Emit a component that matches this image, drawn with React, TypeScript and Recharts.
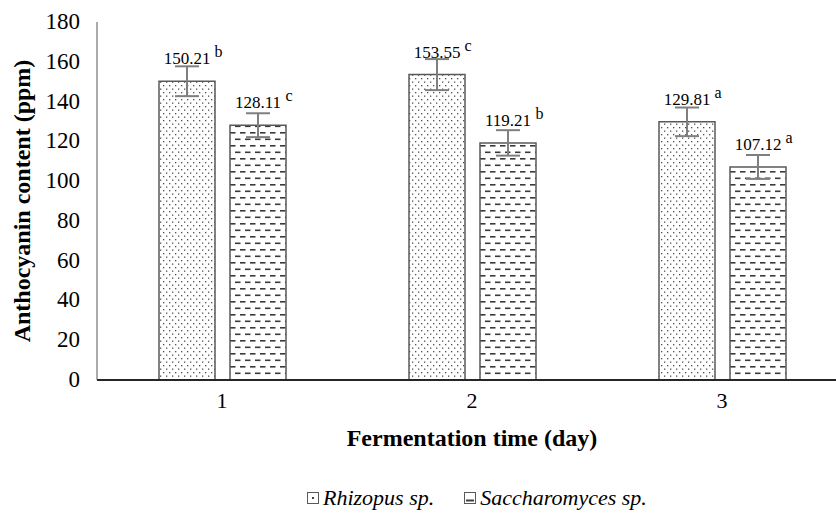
import React from "react";
import { BarChart, Bar, XAxis, YAxis, ErrorBar, LabelList } from "recharts";

const days = ["1", "2", "3"];
const rhizopus = [150.21, 153.55, 129.81];
const saccharomyces = [128.11, 119.21, 107.12];
const rhizopusErr = [7.5, 7.8, 7.2];
const saccharomycesErr = [6, 6.4, 6];
const rhizopusLetters = ["b", "c", "a"];
const saccharomycesLetters = ["c", "b", "a"];
const yTicks = [0, 20, 40, 60, 80, 100, 120, 140, 160, 180];

const FONT = '"Liberation Serif", "Times New Roman", serif';

const chartData = days.map((day, i) => ({
  day,
  rhizopus: rhizopus[i],
  rhizopusErr: rhizopusErr[i],
  saccharomyces: saccharomyces[i],
  saccharomycesErr: saccharomycesErr[i],
}));

// value label + superscript significance letter
const makeLabel = (letters: string[]) => (props: any) => {
  const { x, y, width, value, index } = props;
  const fs = 17;
  const txt = Number(value).toFixed(2);
  const cx = x + width / 2;
  const half = ((txt.length - 1) * 0.5 + 0.25) * fs / 2;
  return (
    <g>
      <text x={cx} y={y - 17} textAnchor="middle" fontSize={fs} fontFamily={FONT} fill="#000">
        {txt}
      </text>
      <text x={cx + half + 4} y={y - 24} textAnchor="start" fontSize={16} fontFamily={FONT} fill="#000">
        {letters[index]}
      </text>
    </g>
  );
};

const XTick = (props: any) => {
  const { x, y, payload } = props;
  return (
    <text x={x} y={y + 28} textAnchor="middle" fontSize={22} fontFamily={FONT} fill="#000">
      {payload.value}
    </text>
  );
};

const YTick = (props: any) => {
  const { x, y, payload } = props;
  return (
    <text x={x - 17} y={y + 7} textAnchor="end" fontSize={23} fontFamily={FONT} fill="#000">
      {payload.value}
    </text>
  );
};

const DotIcon = () => (
  <svg width="12" height="12" style={{ marginRight: 4 }}>
    <rect x="0.5" y="0.5" width="11" height="11" fill="#fff" stroke="#595959" />
    <rect x="5" y="5" width="2" height="2" fill="#404040" />
  </svg>
);

const DashIcon = () => (
  <svg width="12" height="12" style={{ marginRight: 4 }}>
    <rect x="0.5" y="0.5" width="11" height="11" fill="#fff" stroke="#595959" />
    <rect x="2" y="7.5" width="8" height="2" fill="#404040" />
  </svg>
);

const App = () => {
  return (
    <div style={{ position: "absolute", left: 0, top: 0, width: 836, height: 515, overflow: "hidden", background: "#fff" }}>
      <BarChart
        width={860}
        height={515}
        data={chartData}
        margin={{ top: 22, right: 13, left: 0, bottom: 0 }}
        barSize={56}
        barGap={15}
      >
        <defs>
          <pattern id="dotsPat" width="6" height="7" patternUnits="userSpaceOnUse">
            <rect width="6" height="7" fill="#fff" />
            <rect x="1" y="1" width="1.3" height="1.3" fill="#505050" />
            <rect x="4" y="4.5" width="1.3" height="1.3" fill="#505050" />
          </pattern>
          <pattern id="dashPat" width="10" height="13" patternUnits="userSpaceOnUse">
            <rect width="10" height="13" fill="#fff" />
            <rect x="0" y="2" width="5.5" height="1.6" fill="#3a3a3a" />
            <rect x="5" y="8.5" width="5.5" height="1.6" fill="#3a3a3a" />
            <rect x="-5" y="8.5" width="5.5" height="1.6" fill="#3a3a3a" />
          </pattern>
        </defs>
        <XAxis
          dataKey="day"
          height={135}
          tickLine={false}
          tickSize={0}
          tickMargin={0}
          axisLine={{ stroke: "#262626", strokeWidth: 2 }}
          tick={<XTick />}
          label={(p: any) => {
            const vb = p.viewBox;
            return (
              <text x={vb.x + vb.width / 2} y={446} textAnchor="middle" fontSize={24} fontWeight="bold" fontFamily={FONT} fill="#000">
                Fermentation time (day)
              </text>
            );
          }}
        />
        <YAxis
          width={97}
          domain={[0, 180]}
          ticks={yTicks}
          interval={0}
          tickLine={false}
          tickSize={0}
          tickMargin={0}
          axisLine={{ stroke: "#595959", strokeWidth: 1 }}
          tick={<YTick />}
          label={(p: any) => {
            const vb = p.viewBox;
            const cy = vb.y + vb.height / 2;
            return (
              <text x={30} y={cy} transform={`rotate(-90 30 ${cy})`} textAnchor="middle" fontSize={24} fontWeight="bold" fontFamily={FONT} fill="#000">
                Anthocyanin content (ppm)
              </text>
            );
          }}
        />
        <Bar dataKey="rhizopus" fill="url(#dotsPat)" stroke="#595959" strokeWidth={1.5} isAnimationActive={false}>
          <ErrorBar dataKey="rhizopusErr" width={12} strokeWidth={2} stroke="#7f7f7f" direction="y" />
          <LabelList dataKey="rhizopus" content={makeLabel(rhizopusLetters)} />
        </Bar>
        <Bar dataKey="saccharomyces" fill="url(#dashPat)" stroke="#595959" strokeWidth={1.5} isAnimationActive={false}>
          <ErrorBar dataKey="saccharomycesErr" width={12} strokeWidth={2} stroke="#7f7f7f" direction="y" />
          <LabelList dataKey="saccharomyces" content={makeLabel(saccharomycesLetters)} />
        </Bar>
      </BarChart>
      <div
        style={{
          position: "absolute",
          left: 307,
          top: 486,
          display: "flex",
          alignItems: "center",
          fontFamily: FONT,
          fontStyle: "italic",
          fontSize: 22,
          lineHeight: "24px",
          color: "#000",
          whiteSpace: "nowrap",
        }}
      >
        <span style={{ display: "flex", alignItems: "center", marginRight: 30 }}>
          <DotIcon />
          Rhizopus sp.
        </span>
        <span style={{ display: "flex", alignItems: "center" }}>
          <DashIcon />
          Saccharomyces sp.
        </span>
      </div>
    </div>
  );
};

export default App;
